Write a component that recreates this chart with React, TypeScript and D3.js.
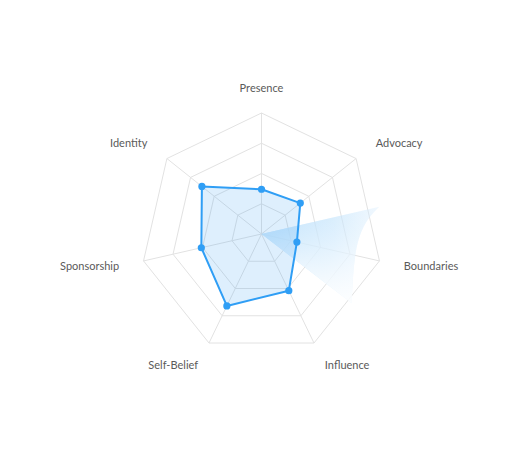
import React from "react";
import * as d3 from "d3";

const axes = ["Presence", "Advocacy", "Boundaries", "Influence", "Self-Belief", "Sponsorship", "Identity"];
const values = [37, 41, 30, 52, 66, 51, 63];
const levels = [25, 50, 75, 100];
const maxValue = 100;

// fan highlight (angles in degrees clockwise from top, reach as fraction of max)
const fanStartAngle = 77;
const fanEndAngle = 127.5;
const fanStartReach = 100;
const fanEndReach = 94;

export default function App() {
  const width = 520;
  const height = 476;
  const cx = 261.5;
  const cy = 234;
  const R = 121;
  const r = d3.scaleLinear().domain([0, maxValue]).range([0, R]);
  const angle = d3
    .scaleLinear()
    .domain([0, axes.length])
    .range([0, 2 * Math.PI]);

  const pt = (i: number, v: number): [number, number] => {
    const a = angle(i);
    return [cx + Math.sin(a) * r(v), cy - Math.cos(a) * r(v)];
  };
  const ptA = (deg: number, v: number): [number, number] => {
    const a = (deg * Math.PI) / 180;
    return [cx + Math.sin(a) * r(v), cy - Math.cos(a) * r(v)];
  };

  const line = d3.line<[number, number]>().curve(d3.curveLinearClosed);

  const ringPath = (lv: number) => line(axes.map((_, i) => pt(i, lv))) as string;
  const dataPts = values.map((v, i) => pt(i, v));

  const f0 = ptA(fanStartAngle, fanStartReach);
  const f1 = ptA(fanEndAngle, fanEndReach);
  const c1 = [f0[0] - 22, f0[1] + 20];
  const c2 = [f1[0] + 2, f1[1] - 55];
  const fanPath = `M${cx},${cy}L${f0[0]},${f0[1]}C${c1[0]},${c1[1]} ${c2[0]},${c2[1]} ${f1[0]},${f1[1]}Z`;

  return (
    <svg width={width} height={height} style={{ display: "block", position: "absolute", left: 0, top: 0 }}>
      <defs>
        <radialGradient id="fanGrad" gradientUnits="userSpaceOnUse" cx={cx} cy={cy} r={R}>
          <stop offset="0" stopColor="#7cc3f8" stopOpacity={0.75} />
          <stop offset="0.6" stopColor="#a9d8fb" stopOpacity={0.55} />
          <stop offset="1" stopColor="#d6ecfd" stopOpacity={0.35} />
        </radialGradient>
        <linearGradient id="fanFade" gradientUnits="userSpaceOnUse" x1={f0[0]} y1={f0[1]} x2={f1[0]} y2={f1[1]}>
          <stop offset="0" stopColor="#ffffff" stopOpacity={0} />
          <stop offset="1" stopColor="#ffffff" stopOpacity={0.85} />
        </linearGradient>
      </defs>
      <g>
        {levels.map((lv) => (
          <path key={lv} d={ringPath(lv)} fill="none" stroke="#e2e2e2" strokeWidth={1} />
        ))}
        {axes.map((_, i) => {
          const p = pt(i, maxValue);
          return <line key={i} x1={cx} y1={cy} x2={p[0]} y2={p[1]} stroke="#e2e2e2" strokeWidth={1} />;
        })}
      </g>
      <path d={fanPath} fill="url(#fanGrad)" />
      <path d={fanPath} fill="url(#fanFade)" />
      <path d={line(dataPts) as string} fill="#2f9ef5" fillOpacity={0.16} stroke="#2f9ef5" strokeWidth={2} strokeLinejoin="round" />
      {dataPts.map((p, i) => (
        <circle key={i} cx={p[0]} cy={p[1]} r={3.6} fill="#2f9ef5" />
      ))}
      {axes.map((name, i) => {
        const a = angle(i);
        const p = pt(i, maxValue);
        const lx = p[0] + Math.sin(a) * 25;
        const ly = p[1] - Math.cos(a) * 25;
        const s = Math.sin(a);
        const anchor = Math.abs(s) < 0.01 ? "middle" : s > 0 ? "start" : "end";
        return (
          <text
            key={name}
            x={lx}
            y={ly}
            dy="0.35em"
            textAnchor={anchor}
            fontFamily="Lato, 'Open Sans', sans-serif"
            fontSize={11}
            fill="#5a5a5a"
          >
            {name}
          </text>
        );
      })}
    </svg>
  );
}
